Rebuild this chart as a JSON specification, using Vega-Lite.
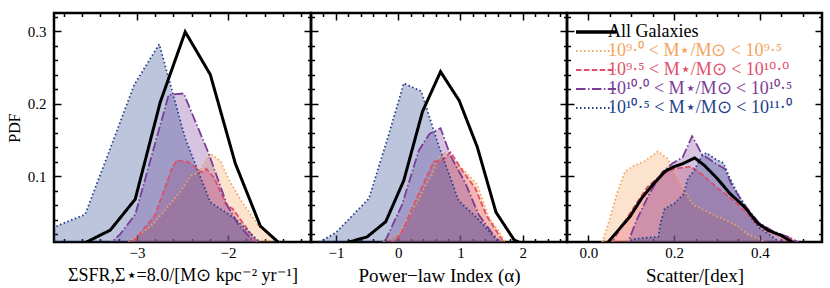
{
  "$schema": "https://vega.github.io/schema/vega-lite/v6.json",
  "padding": {"left": 5, "top": 8, "right": 0, "bottom": 0},
  "config": {
    "font": "Liberation Serif",
    "view": {"stroke": "#000000", "strokeWidth": 2.5},
    "axis": {"domain": false, "grid": false, "labelFontSize": 15, "titleFontSize": 19, "titleFontWeight": "normal", "labelColor": "#000000", "titleColor": "#000000", "tickColor": "#000000", "tickWidth": 1.5, "labelOverlap": false, "labelFlush": false}
  },
  "datasets": {
    "p1": [
      {"g": "All", "x": -3.842, "y": 0.0}, {"g": "All", "x": -3.568, "y": 0.008}, {"g": "All", "x": -3.293, "y": 0.0253}, {"g": "All", "x": -3.019, "y": 0.068}, {"g": "All", "x": -2.744, "y": 0.202}, {"g": "All", "x": -2.47, "y": 0.299}, {"g": "All", "x": -2.195, "y": 0.24}, {"g": "All", "x": -1.921, "y": 0.1176}, {"g": "All", "x": -1.646, "y": 0.031}, {"g": "All", "x": -1.372, "y": 0.0},
      {"g": "A", "x": -3.3, "y": 0.0}, {"g": "A", "x": -3.09, "y": 0.009}, {"g": "A", "x": -2.835, "y": 0.032}, {"g": "A", "x": -2.524, "y": 0.078}, {"g": "A", "x": -2.414, "y": 0.1}, {"g": "A", "x": -2.322, "y": 0.105}, {"g": "A", "x": -2.195, "y": 0.131}, {"g": "A", "x": -2.085, "y": 0.121}, {"g": "A", "x": -1.992, "y": 0.095}, {"g": "A", "x": -1.846, "y": 0.064}, {"g": "A", "x": -1.663, "y": 0.031}, {"g": "A", "x": -1.462, "y": 0.011}, {"g": "A", "x": -1.35, "y": 0.0},
      {"g": "B", "x": -3.2, "y": 0.0}, {"g": "B", "x": -3.022, "y": 0.012}, {"g": "B", "x": -2.802, "y": 0.046}, {"g": "B", "x": -2.615, "y": 0.111}, {"g": "B", "x": -2.56, "y": 0.122}, {"g": "B", "x": -2.43, "y": 0.119}, {"g": "B", "x": -2.29, "y": 0.105}, {"g": "B", "x": -2.24, "y": 0.11}, {"g": "B", "x": -2.15, "y": 0.097}, {"g": "B", "x": -2.02, "y": 0.06}, {"g": "B", "x": -1.95, "y": 0.055}, {"g": "B", "x": -1.703, "y": 0.012}, {"g": "B", "x": -1.6, "y": 0.0},
      {"g": "C", "x": -3.35, "y": 0.0}, {"g": "C", "x": -3.183, "y": 0.02}, {"g": "C", "x": -3.018, "y": 0.047}, {"g": "C", "x": -2.652, "y": 0.212}, {"g": "C", "x": -2.487, "y": 0.214}, {"g": "C", "x": -2.212, "y": 0.131}, {"g": "C", "x": -2.011, "y": 0.06}, {"g": "C", "x": -1.882, "y": 0.032}, {"g": "C", "x": -1.703, "y": 0.008}, {"g": "C", "x": -1.6, "y": 0.0},
      {"g": "D", "x": -4.117, "y": 0.015}, {"g": "D", "x": -3.842, "y": 0.033}, {"g": "D", "x": -3.568, "y": 0.047}, {"g": "D", "x": -3.293, "y": 0.138}, {"g": "D", "x": -3.03, "y": 0.226}, {"g": "D", "x": -2.755, "y": 0.282}, {"g": "D", "x": -2.47, "y": 0.152}, {"g": "D", "x": -2.195, "y": 0.064}, {"g": "D", "x": -1.921, "y": 0.041}, {"g": "D", "x": -1.646, "y": 0.008}, {"g": "D", "x": -1.5, "y": 0.0}
    ],
    "p2": [
      {"g": "All", "x": -1.09, "y": 0.0}, {"g": "All", "x": -0.79, "y": 0.009}, {"g": "All", "x": -0.5, "y": 0.016}, {"g": "All", "x": -0.2, "y": 0.037}, {"g": "All", "x": 0.09, "y": 0.094}, {"g": "All", "x": 0.39, "y": 0.189}, {"g": "All", "x": 0.68, "y": 0.244}, {"g": "All", "x": 0.98, "y": 0.204}, {"g": "All", "x": 1.27, "y": 0.14}, {"g": "All", "x": 1.57, "y": 0.05}, {"g": "All", "x": 1.86, "y": 0.012}, {"g": "All", "x": 2.15, "y": 0.0},
      {"g": "A", "x": -0.4, "y": 0.0}, {"g": "A", "x": -0.18, "y": 0.012}, {"g": "A", "x": 0.01, "y": 0.02}, {"g": "A", "x": 0.3, "y": 0.064}, {"g": "A", "x": 0.44, "y": 0.088}, {"g": "A", "x": 0.55, "y": 0.103}, {"g": "A", "x": 0.62, "y": 0.122}, {"g": "A", "x": 0.74, "y": 0.133}, {"g": "A", "x": 0.87, "y": 0.122}, {"g": "A", "x": 1.08, "y": 0.106}, {"g": "A", "x": 1.27, "y": 0.088}, {"g": "A", "x": 1.46, "y": 0.042}, {"g": "A", "x": 1.62, "y": 0.023}, {"g": "A", "x": 1.75, "y": 0.005}, {"g": "A", "x": 1.85, "y": 0.0},
      {"g": "B", "x": -0.25, "y": 0.0}, {"g": "B", "x": 0.0, "y": 0.015}, {"g": "B", "x": 0.1, "y": 0.03}, {"g": "B", "x": 0.22, "y": 0.055}, {"g": "B", "x": 0.57, "y": 0.12}, {"g": "B", "x": 0.72, "y": 0.122}, {"g": "B", "x": 0.84, "y": 0.133}, {"g": "B", "x": 1.05, "y": 0.105}, {"g": "B", "x": 1.24, "y": 0.083}, {"g": "B", "x": 1.42, "y": 0.045}, {"g": "B", "x": 1.72, "y": 0.005}, {"g": "B", "x": 1.8, "y": 0.0},
      {"g": "C", "x": -0.45, "y": 0.0}, {"g": "C", "x": -0.2, "y": 0.012}, {"g": "C", "x": 0.06, "y": 0.06}, {"g": "C", "x": 0.33, "y": 0.135}, {"g": "C", "x": 0.5, "y": 0.158}, {"g": "C", "x": 0.68, "y": 0.166}, {"g": "C", "x": 0.84, "y": 0.128}, {"g": "C", "x": 1.08, "y": 0.09}, {"g": "C", "x": 1.29, "y": 0.047}, {"g": "C", "x": 1.5, "y": 0.022}, {"g": "C", "x": 1.7, "y": 0.003}, {"g": "C", "x": 1.8, "y": 0.0},
      {"g": "D", "x": -1.5, "y": 0.0}, {"g": "D", "x": -1.2, "y": 0.012}, {"g": "D", "x": -1.0, "y": 0.022}, {"g": "D", "x": -0.47, "y": 0.069}, {"g": "D", "x": -0.16, "y": 0.155}, {"g": "D", "x": 0.09, "y": 0.228}, {"g": "D", "x": 0.37, "y": 0.217}, {"g": "D", "x": 0.63, "y": 0.147}, {"g": "D", "x": 0.97, "y": 0.066}, {"g": "D", "x": 1.27, "y": 0.042}, {"g": "D", "x": 1.6, "y": 0.01}, {"g": "D", "x": 1.8, "y": 0.0}
    ],
    "p3": [
      {"g": "All", "x": 0.02, "y": 0.0}, {"g": "All", "x": 0.045, "y": 0.008}, {"g": "All", "x": 0.098, "y": 0.045}, {"g": "All", "x": 0.125, "y": 0.07}, {"g": "All", "x": 0.15, "y": 0.088}, {"g": "All", "x": 0.18, "y": 0.107}, {"g": "All", "x": 0.2, "y": 0.113}, {"g": "All", "x": 0.22, "y": 0.117}, {"g": "All", "x": 0.248, "y": 0.125}, {"g": "All", "x": 0.27, "y": 0.115}, {"g": "All", "x": 0.3, "y": 0.097}, {"g": "All", "x": 0.33, "y": 0.076}, {"g": "All", "x": 0.365, "y": 0.057}, {"g": "All", "x": 0.395, "y": 0.035}, {"g": "All", "x": 0.42, "y": 0.025}, {"g": "All", "x": 0.45, "y": 0.018}, {"g": "All", "x": 0.475, "y": 0.009}, {"g": "All", "x": 0.5, "y": 0.003},
      {"g": "A", "x": 0.02, "y": 0.0}, {"g": "A", "x": 0.032, "y": 0.008}, {"g": "A", "x": 0.05, "y": 0.041}, {"g": "A", "x": 0.067, "y": 0.077}, {"g": "A", "x": 0.085, "y": 0.106}, {"g": "A", "x": 0.105, "y": 0.114}, {"g": "A", "x": 0.13, "y": 0.12}, {"g": "A", "x": 0.162, "y": 0.134}, {"g": "A", "x": 0.185, "y": 0.124}, {"g": "A", "x": 0.205, "y": 0.1}, {"g": "A", "x": 0.225, "y": 0.078}, {"g": "A", "x": 0.245, "y": 0.06}, {"g": "A", "x": 0.29, "y": 0.047}, {"g": "A", "x": 0.325, "y": 0.038}, {"g": "A", "x": 0.35, "y": 0.03}, {"g": "A", "x": 0.37, "y": 0.02}, {"g": "A", "x": 0.4, "y": 0.013}, {"g": "A", "x": 0.43, "y": 0.003},
      {"g": "B", "x": 0.04, "y": 0.0}, {"g": "B", "x": 0.055, "y": 0.008}, {"g": "B", "x": 0.075, "y": 0.028}, {"g": "B", "x": 0.105, "y": 0.056}, {"g": "B", "x": 0.138, "y": 0.085}, {"g": "B", "x": 0.17, "y": 0.102}, {"g": "B", "x": 0.2, "y": 0.11}, {"g": "B", "x": 0.24, "y": 0.113}, {"g": "B", "x": 0.27, "y": 0.1}, {"g": "B", "x": 0.3, "y": 0.084}, {"g": "B", "x": 0.335, "y": 0.068}, {"g": "B", "x": 0.365, "y": 0.052}, {"g": "B", "x": 0.387, "y": 0.037}, {"g": "B", "x": 0.42, "y": 0.023}, {"g": "B", "x": 0.465, "y": 0.016}, {"g": "B", "x": 0.5, "y": 0.005},
      {"g": "C", "x": 0.08, "y": 0.0}, {"g": "C", "x": 0.092, "y": 0.008}, {"g": "C", "x": 0.113, "y": 0.04}, {"g": "C", "x": 0.14, "y": 0.073}, {"g": "C", "x": 0.172, "y": 0.105}, {"g": "C", "x": 0.195, "y": 0.117}, {"g": "C", "x": 0.22, "y": 0.126}, {"g": "C", "x": 0.242, "y": 0.155}, {"g": "C", "x": 0.265, "y": 0.13}, {"g": "C", "x": 0.29, "y": 0.12}, {"g": "C", "x": 0.318, "y": 0.11}, {"g": "C", "x": 0.335, "y": 0.087}, {"g": "C", "x": 0.362, "y": 0.062}, {"g": "C", "x": 0.397, "y": 0.036}, {"g": "C", "x": 0.43, "y": 0.024}, {"g": "C", "x": 0.47, "y": 0.015}, {"g": "C", "x": 0.5, "y": 0.005},
      {"g": "D", "x": 0.09, "y": 0.0}, {"g": "D", "x": 0.105, "y": 0.013}, {"g": "D", "x": 0.136, "y": 0.015}, {"g": "D", "x": 0.163, "y": 0.016}, {"g": "D", "x": 0.168, "y": 0.035}, {"g": "D", "x": 0.178, "y": 0.055}, {"g": "D", "x": 0.2, "y": 0.062}, {"g": "D", "x": 0.222, "y": 0.075}, {"g": "D", "x": 0.232, "y": 0.097}, {"g": "D", "x": 0.245, "y": 0.106}, {"g": "D", "x": 0.265, "y": 0.128}, {"g": "D", "x": 0.275, "y": 0.132}, {"g": "D", "x": 0.3, "y": 0.122}, {"g": "D", "x": 0.315, "y": 0.118}, {"g": "D", "x": 0.33, "y": 0.097}, {"g": "D", "x": 0.348, "y": 0.076}, {"g": "D", "x": 0.365, "y": 0.06}, {"g": "D", "x": 0.38, "y": 0.042}, {"g": "D", "x": 0.4, "y": 0.028}, {"g": "D", "x": 0.425, "y": 0.018}, {"g": "D", "x": 0.445, "y": 0.009}, {"g": "D", "x": 0.47, "y": 0.0}
    ]
  },
  "spacing": 0,
  "bounds": "flush",
  "resolve": {"scale": {"fill": "independent", "stroke": "independent", "strokeDash": "independent"}},
  "hconcat": [
    {
      "width": 257, "height": 229,
      "data": {"name": "p1"},
      "resolve": {"axis": {"x": "independent", "y": "independent"}},
      "layer": [
        {
          "transform": [{"filter": "datum.g != 'All'"}],
          "mark": {"type": "area", "fillOpacity": 0.3, "clip": true},
          "encoding": {
            "x": {"field": "x", "type": "quantitative", "scale": {"domain": [-3.91, -1.09], "nice": false, "zero": false},
              "axis": {"orient": "bottom", "values": [-3.8,-3.6,-3.4,-3.2,-3,-2.8,-2.6,-2.4,-2.2,-2,-1.8,-1.6,-1.4,-1.2],
                "tickSize": {"condition": {"test": "abs(datum.value - round(datum.value)) < 0.001", "value": -7}, "value": -3.5},
                "labelExpr": "abs(datum.value - round(datum.value)) < 0.001 ? format(datum.value, '.0f') : ''",
                "labelPadding": 10, "title": "ΣSFR,Σ⋆=8.0/[M⊙ kpc⁻² yr⁻¹]", "titleFontSize": 18, "titlePadding": 3}},
            "y": {"field": "y", "type": "quantitative", "stack": null, "scale": {"domain": [0.009, 0.325], "nice": false, "zero": false},
              "axis": {"orient": "left", "values": [0.02,0.04,0.06,0.08,0.1,0.12,0.14,0.16,0.18,0.2,0.22,0.24,0.26,0.28,0.3,0.32],
                "tickSize": {"condition": {"test": "abs(datum.value*10 - round(datum.value*10)) < 0.001", "value": -7}, "value": -3.5},
                "labelExpr": "abs(datum.value*10 - round(datum.value*10)) < 0.001 ? format(datum.value, '.1f') : ''",
                "labelPadding": 15, "title": "PDF", "titleFontSize": 16, "titlePadding": 5}},
            "fill": {"field": "g", "type": "nominal", "scale": {"domain": ["A","B","C","D"], "range": ["#F5A35C","#DF4F6A","#7B3C98","#233F8E"]}, "legend": null}
          }
        },
        {
          "transform": [{"filter": "datum.g != 'All'"}],
          "mark": {"type": "line", "strokeWidth": 1.8, "clip": true},
          "encoding": {
            "x": {"field": "x", "type": "quantitative",
              "axis": {"orient": "top", "values": [-3.8,-3.6,-3.4,-3.2,-3,-2.8,-2.6,-2.4,-2.2,-2,-1.8,-1.6,-1.4,-1.2],
                "tickSize": {"condition": {"test": "abs(datum.value - round(datum.value)) < 0.001", "value": -7}, "value": -3.5},
                "labels": false, "title": null}},
            "y": {"field": "y", "type": "quantitative",
              "axis": {"orient": "right", "values": [0.02,0.04,0.06,0.08,0.1,0.12,0.14,0.16,0.18,0.2,0.22,0.24,0.26,0.28,0.3,0.32],
                "tickSize": {"condition": {"test": "abs(datum.value*10 - round(datum.value*10)) < 0.001", "value": -7}, "value": -3.5},
                "labels": false, "title": null}},
            "stroke": {"field": "g", "type": "nominal", "scale": {"domain": ["All","A","B","C","D"], "range": ["#000000","#F5A35C","#DF4F6A","#7B3C98","#233F8E"]}, "legend": null},
            "strokeDash": {"field": "g", "type": "nominal", "scale": {"domain": ["All","A","B","C","D"], "range": [[1,0],[1.5,2.5],[5.5,2.4],[9.6,2.4,1.5,2.4],[1.5,2.5]]}, "legend": null}
          }
        },
        {
          "transform": [{"filter": "datum.g == 'All'"}],
          "mark": {"type": "line", "strokeWidth": 3, "clip": true},
          "encoding": {
            "x": {"field": "x", "type": "quantitative", "axis": null},
            "y": {"field": "y", "type": "quantitative", "axis": null},
            "stroke": {"field": "g", "type": "nominal", "scale": {"domain": ["All","A","B","C","D"], "range": ["#000000","#F5A35C","#DF4F6A","#7B3C98","#233F8E"]}, "legend": null},
            "strokeDash": {"field": "g", "type": "nominal", "scale": {"domain": ["All","A","B","C","D"], "range": [[1,0],[1.5,2.5],[5.5,2.4],[9.6,2.4,1.5,2.4],[1.5,2.5]]}, "legend": null}
          }
        }
      ]
    },
    {
      "width": 256, "height": 229,
      "data": {"name": "p2"},
      "resolve": {"axis": {"x": "independent", "y": "independent"}},
      "layer": [
        {
          "transform": [{"filter": "datum.g != 'All'"}],
          "mark": {"type": "area", "fillOpacity": 0.3, "clip": true},
          "encoding": {
            "x": {"field": "x", "type": "quantitative", "scale": {"domain": [-1.4, 2.71], "nice": false, "zero": false},
              "axis": {"orient": "bottom", "values": [-1.2,-1,-0.8,-0.6,-0.4,-0.2,0,0.2,0.4,0.6,0.8,1,1.2,1.4,1.6,1.8,2,2.2,2.4,2.6],
                "tickSize": {"condition": {"test": "abs(datum.value - round(datum.value)) < 0.001", "value": -7}, "value": -3.5},
                "labelExpr": "abs(datum.value - round(datum.value)) < 0.001 ? format(datum.value, '.0f') : ''",
                "labelPadding": 10, "title": "Power−law Index (α)", "titlePadding": 3}},
            "y": {"field": "y", "type": "quantitative", "stack": null, "scale": {"domain": [0.009, 0.325], "nice": false, "zero": false},
              "axis": {"orient": "left", "values": [0.02,0.04,0.06,0.08,0.1,0.12,0.14,0.16,0.18,0.2,0.22,0.24,0.26,0.28,0.3,0.32],
                "tickSize": {"condition": {"test": "abs(datum.value*10 - round(datum.value*10)) < 0.001", "value": -7}, "value": -3.5},
                "labels": false, "title": null}},
            "fill": {"field": "g", "type": "nominal", "scale": {"domain": ["A","B","C","D"], "range": ["#F5A35C","#DF4F6A","#7B3C98","#233F8E"]}, "legend": null}
          }
        },
        {
          "transform": [{"filter": "datum.g != 'All'"}],
          "mark": {"type": "line", "strokeWidth": 1.8, "clip": true},
          "encoding": {
            "x": {"field": "x", "type": "quantitative",
              "axis": {"orient": "top", "values": [-1.2,-1,-0.8,-0.6,-0.4,-0.2,0,0.2,0.4,0.6,0.8,1,1.2,1.4,1.6,1.8,2,2.2,2.4,2.6],
                "tickSize": {"condition": {"test": "abs(datum.value - round(datum.value)) < 0.001", "value": -7}, "value": -3.5},
                "labels": false, "title": null}},
            "y": {"field": "y", "type": "quantitative",
              "axis": {"orient": "right", "values": [0.02,0.04,0.06,0.08,0.1,0.12,0.14,0.16,0.18,0.2,0.22,0.24,0.26,0.28,0.3,0.32],
                "tickSize": {"condition": {"test": "abs(datum.value*10 - round(datum.value*10)) < 0.001", "value": -7}, "value": -3.5},
                "labels": false, "title": null}},
            "stroke": {"field": "g", "type": "nominal", "scale": {"domain": ["All","A","B","C","D"], "range": ["#000000","#F5A35C","#DF4F6A","#7B3C98","#233F8E"]}, "legend": null},
            "strokeDash": {"field": "g", "type": "nominal", "scale": {"domain": ["All","A","B","C","D"], "range": [[1,0],[1.5,2.5],[5.5,2.4],[9.6,2.4,1.5,2.4],[1.5,2.5]]}, "legend": null}
          }
        },
        {
          "transform": [{"filter": "datum.g == 'All'"}],
          "mark": {"type": "line", "strokeWidth": 3, "clip": true},
          "encoding": {
            "x": {"field": "x", "type": "quantitative", "axis": null},
            "y": {"field": "y", "type": "quantitative", "axis": null},
            "stroke": {"field": "g", "type": "nominal", "scale": {"domain": ["All","A","B","C","D"], "range": ["#000000","#F5A35C","#DF4F6A","#7B3C98","#233F8E"]}, "legend": null},
            "strokeDash": {"field": "g", "type": "nominal", "scale": {"domain": ["All","A","B","C","D"], "range": [[1,0],[1.5,2.5],[5.5,2.4],[9.6,2.4,1.5,2.4],[1.5,2.5]]}, "legend": null}
          }
        }
      ]
    },
    {
      "width": 255, "height": 229,
      "data": {"name": "p3"},
      "resolve": {"axis": {"x": "independent", "y": "independent"}},
      "layer": [
        {
          "transform": [{"filter": "datum.g != 'All'"}],
          "mark": {"type": "area", "fillOpacity": 0.3, "clip": true},
          "encoding": {
            "x": {"field": "x", "type": "quantitative", "scale": {"domain": [-0.05, 0.545], "nice": false, "zero": false},
              "axis": {"orient": "bottom", "values": [0,0.05,0.1,0.15,0.2,0.25,0.3,0.35,0.4,0.45,0.5],
                "tickSize": {"condition": {"test": "abs(datum.value*5 - round(datum.value*5)) < 0.001", "value": -7}, "value": -3.5},
                "labelExpr": "abs(datum.value*5 - round(datum.value*5)) < 0.001 ? format(datum.value, '.1f') : ''",
                "labelPadding": 10, "title": "Scatter/[dex]", "titlePadding": 3}},
            "y": {"field": "y", "type": "quantitative", "stack": null, "scale": {"domain": [0.009, 0.325], "nice": false, "zero": false},
              "axis": {"orient": "left", "values": [0.02,0.04,0.06,0.08,0.1,0.12,0.14,0.16,0.18,0.2,0.22,0.24,0.26,0.28,0.3,0.32],
                "tickSize": {"condition": {"test": "abs(datum.value*10 - round(datum.value*10)) < 0.001", "value": -7}, "value": -3.5},
                "labels": false, "title": null}},
            "fill": {"field": "g", "type": "nominal", "scale": {"domain": ["A","B","C","D"], "range": ["#F5A35C","#DF4F6A","#7B3C98","#233F8E"]}, "legend": null}
          }
        },
        {
          "transform": [{"filter": "datum.g != 'All'"}],
          "mark": {"type": "line", "strokeWidth": 1.8, "clip": true},
          "encoding": {
            "x": {"field": "x", "type": "quantitative",
              "axis": {"orient": "top", "values": [0,0.05,0.1,0.15,0.2,0.25,0.3,0.35,0.4,0.45,0.5],
                "tickSize": {"condition": {"test": "abs(datum.value*5 - round(datum.value*5)) < 0.001", "value": -7}, "value": -3.5},
                "labels": false, "title": null}},
            "y": {"field": "y", "type": "quantitative",
              "axis": {"orient": "right", "values": [0.02,0.04,0.06,0.08,0.1,0.12,0.14,0.16,0.18,0.2,0.22,0.24,0.26,0.28,0.3,0.32],
                "tickSize": {"condition": {"test": "abs(datum.value*10 - round(datum.value*10)) < 0.001", "value": -7}, "value": -3.5},
                "labels": false, "title": null}},
            "stroke": {"field": "g", "type": "nominal", "scale": {"domain": ["All","A","B","C","D"], "range": ["#000000","#F5A35C","#DF4F6A","#7B3C98","#233F8E"]},
              "legend": {"title": null, "orient": "none", "legendX": 20, "legendY": 10, "padding": 0, "symbolType": "stroke", "symbolSize": 1600, "symbolStrokeWidth": 2, "labelFontSize": 18, "labelOffset": 3, "rowPadding": 1, "labelLimit": 400,
                "labelExpr": "datum.value === 'All' ? 'All Galaxies' : datum.value === 'A' ? '10⁹·⁰ < M⋆/M⊙ < 10⁹·⁵' : datum.value === 'B' ? '10⁹·⁵ < M⋆/M⊙ < 10¹⁰·⁰' : datum.value === 'C' ? '10¹⁰·⁰ < M⋆/M⊙ < 10¹⁰·⁵' : '10¹⁰·⁵ < M⋆/M⊙ < 10¹¹·⁰'",
                "encode": {"labels": {"update": {"fill": {"signal": "datum.value === 'A' ? '#F5A35C' : datum.value === 'B' ? '#DF4F6A' : datum.value === 'C' ? '#7B3C98' : datum.value === 'D' ? '#233F8E' : '#000000'"}}},
                           "symbols": {"update": {"strokeWidth": {"signal": "datum.value === 'All' ? 3.5 : 2"}}}}}},
            "strokeDash": {"field": "g", "type": "nominal", "scale": {"domain": ["All","A","B","C","D"], "range": [[1,0],[1.5,2.5],[5.5,2.4],[9.6,2.4,1.5,2.4],[1.5,2.5]]},
              "legend": {"title": null, "orient": "none", "legendX": 20, "legendY": 10, "padding": 0, "symbolType": "stroke", "symbolSize": 1600, "symbolStrokeWidth": 2, "labelFontSize": 18, "labelOffset": 3, "rowPadding": 1, "labelLimit": 400,
                "labelExpr": "datum.value === 'All' ? 'All Galaxies' : datum.value === 'A' ? '10⁹·⁰ < M⋆/M⊙ < 10⁹·⁵' : datum.value === 'B' ? '10⁹·⁵ < M⋆/M⊙ < 10¹⁰·⁰' : datum.value === 'C' ? '10¹⁰·⁰ < M⋆/M⊙ < 10¹⁰·⁵' : '10¹⁰·⁵ < M⋆/M⊙ < 10¹¹·⁰'",
                "encode": {"labels": {"update": {"fill": {"signal": "datum.value === 'A' ? '#F5A35C' : datum.value === 'B' ? '#DF4F6A' : datum.value === 'C' ? '#7B3C98' : datum.value === 'D' ? '#233F8E' : '#000000'"}}},
                           "symbols": {"update": {"strokeWidth": {"signal": "datum.value === 'All' ? 3.5 : 2"}}}}}}
          }
        },
        {
          "transform": [{"filter": "datum.g == 'All'"}],
          "mark": {"type": "line", "strokeWidth": 3, "clip": true},
          "encoding": {
            "x": {"field": "x", "type": "quantitative", "axis": null},
            "y": {"field": "y", "type": "quantitative", "axis": null},
            "stroke": {"field": "g", "type": "nominal", "scale": {"domain": ["All","A","B","C","D"], "range": ["#000000","#F5A35C","#DF4F6A","#7B3C98","#233F8E"]}},
            "strokeDash": {"field": "g", "type": "nominal", "scale": {"domain": ["All","A","B","C","D"], "range": [[1,0],[1.5,2.5],[5.5,2.4],[9.6,2.4,1.5,2.4],[1.5,2.5]]}}
          }
        }
      ]
    }
  ]
}
